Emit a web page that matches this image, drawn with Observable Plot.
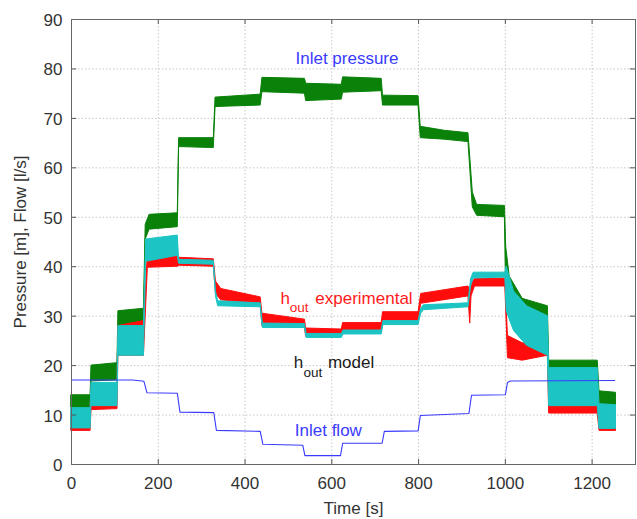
<!DOCTYPE html>
<html>
<head>
<meta charset="utf-8">
<script src="https://cdn.jsdelivr.net/npm/d3@7"></script>
<script src="https://cdn.jsdelivr.net/npm/@observablehq/plot@0.6"></script>
<style>
html, body { margin: 0; padding: 0; background: #fff; }
#chart { width: 637px; height: 519px; }
</style>
</head>
<body>
<div id="chart"></div>
<script>
// Axis ticks
const xTicks = [0, 200, 400, 600, 800, 1000, 1200];
const yTicks = [0, 10, 20, 30, 40, 50, 60, 70, 80, 90];

// Inlet pressure (green, noisy band: low / high envelope)
const pressureTime = [0,44,46,106,108,167,171,180,245,248,328,332,436,440,538,541,623,626,715,718,800,805,860,915,925,935,999,1002,1010,1040,1098,1101,1213,1217,1255];
const pressureLow  = [11.5,11.3,16.8,17.0,27.3,27.8,45.5,47.5,48.0,64.2,64.0,72.3,72.6,75.3,75.0,73.5,73.8,75.2,75.5,72.6,72.6,66.0,65.7,65.2,52.0,50.3,50.0,33.0,31.0,28.5,27.5,17.5,17.5,12.0,12.0];
const pressureHigh = [14.0,14.0,20.0,20.5,31.0,31.5,48.5,50.5,50.8,66.0,66.0,74.2,74.8,78.2,78.0,77.0,76.8,78.3,78.0,74.6,74.5,68.3,67.5,67.0,55.0,52.5,52.3,44.0,38.0,33.5,32.0,21.0,21.0,14.8,14.5];

// h_out experimental (red band)
const expTime = [0,44,46,106,108,167,176,245,250,328,333,345,436,440,538,541,623,626,715,718,800,806,915,919,922,930,1000,1006,1040,1098,1101,1213,1217,1255];
const expLow  = [6.8,6.8,11.0,11.2,22.0,22.0,39.8,40.0,40.2,40.0,34.5,33.2,32.5,28.0,27.6,25.8,25.8,26.8,26.8,29.0,29.0,32.5,34.0,28.5,34.0,36.0,36.0,21.5,21.0,22.0,10.3,10.3,6.8,6.8];
const expHigh = [10.5,10.5,16.0,16.0,28.0,29.0,42.5,42.0,41.8,41.5,37.0,35.5,33.8,30.5,29.3,27.5,27.3,28.6,28.6,30.8,30.8,34.5,36.0,35.0,36.5,37.5,37.6,26.0,24.5,24.5,16.0,16.0,12.0,11.5];

// h_out model (cyan band)
const modelTime = [0,44,46,106,108,167,172,245,248,328,333,338,436,441,538,542,623,627,715,719,800,806,812,915,921,927,1000,1003,1020,1050,1098,1101,1213,1217,1255];
const modelLow  = [7.3,7.3,11.8,11.8,22.0,22.0,41.0,42.2,40.6,40.4,34.0,32.0,31.8,27.6,27.6,25.6,25.6,26.3,26.3,28.2,28.2,30.5,31.2,31.8,36.0,37.6,37.8,31.0,27.0,24.0,22.0,11.8,11.8,7.2,7.2];
const modelHigh = [11.4,11.4,16.5,16.5,28.0,28.0,45.5,46.3,41.4,41.2,35.0,33.0,32.6,28.5,28.4,26.4,26.4,27.1,27.1,29.0,29.0,31.5,32.2,32.6,37.5,38.8,38.8,40.0,35.0,32.0,30.0,19.5,19.5,12.2,12.0];

// Inlet flow (blue line)
const flowTime  = [0,140,163,167,174,244,250,328,334,435,441,533,538,620,625,716,721,799,804,916,922,1000,1005,1012,1252];
const flowValue = [17.1,17.1,16.9,16.8,14.5,14.4,10.6,10.5,6.9,6.7,4.1,3.9,1.8,1.8,4.3,4.3,6.7,6.8,9.9,10.3,14.0,14.1,16.6,16.9,17.0];

// Annotations
const plainLabels = ["Inlet pressure", "Inlet flow"];
const plainLabelX = [635, 592];
const plainLabelY = [82.1, 6.8];
const subLabelMain = ["experimental", "model"];
const subLabelH = ["h", "h"];
const subLabelSub = ["out", "out"];
const subLabelHX = [482, 512];
const subLabelSubX = [503, 535];
const subLabelMainX = [562, 591];
const subLabelY = [33.6, 20.6];
const subLabelSubY = [31.7, 18.6];
const subLabelColors = ["#ff1a1a", "#1a1a1a"];

const band = (t, lo, hi) => t.map((x, i) => ({t: x, lo: lo[i], hi: hi[i]}));
const pressure = band(pressureTime, pressureLow, pressureHigh);
const experimental = band(expTime, expLow, expHigh);
const model = band(modelTime, modelLow, modelHigh);
const flow = flowTime.map((x, i) => ({t: x, v: flowValue[i]}));

const plain = plainLabels.map((s, i) => ({s, t: plainLabelX[i], v: plainLabelY[i]}));
const subs = subLabelMain.map((s, i) => ({
  main: s, h: subLabelH[i], sub: subLabelSub[i],
  hx: subLabelHX[i], sx: subLabelSubX[i], mx: subLabelMainX[i],
  y: subLabelY[i], sy: subLabelSubY[i], c: subLabelColors[i]
}));

const GREEN = "#0a820a", RED = "#ff0d0d", CYAN = "#1cc4c4", BLUE = "#3a3aff";

const chart = Plot.plot({
  width: 637,
  height: 519,
  marginLeft: 71,
  marginRight: 2,
  marginTop: 19,
  marginBottom: 55,
  x: {domain: [0, 1300]},
  y: {domain: [0, 90]},
  style: {fontFamily: "'Liberation Sans', Arial, sans-serif", fontSize: "17px", color: "#333", background: "#fff"},
  marks: [
    Plot.gridX(xTicks, {stroke: "#c8c8c8", strokeOpacity: 1, strokeDasharray: "1.5,2"}),
    Plot.gridY(yTicks, {stroke: "#c8c8c8", strokeOpacity: 1, strokeDasharray: "1.5,2"}),
    Plot.areaY(pressure, {x: "t", y1: "lo", y2: "hi", fill: GREEN, stroke: GREEN, strokeWidth: 1}),
    Plot.areaY(experimental, {x: "t", y1: "lo", y2: "hi", fill: RED, stroke: RED, strokeWidth: 1}),
    Plot.areaY(model, {x: "t", y1: "lo", y2: "hi", fill: CYAN, stroke: CYAN, strokeWidth: 1}),
    Plot.line(flow, {x: "t", y: "v", stroke: BLUE, strokeWidth: 1.1}),
    // inner tick marks on all four sides
    Plot.ruleX(xTicks, {y1: 0, y2: 1, stroke: "#555"}),
    Plot.ruleX(xTicks, {y1: 89, y2: 90, stroke: "#555"}),
    Plot.ruleY(yTicks, {x1: 0, x2: 12, stroke: "#555"}),
    Plot.ruleY(yTicks, {x1: 1288, x2: 1300, stroke: "#555"}),
    Plot.frame({stroke: "#666"}),
    Plot.axisX(xTicks, {tickSize: 0, tickPadding: 12, fontSize: 17, label: null, tickFormat: d => String(d)}),
    Plot.axisY(yTicks, {tickSize: 0, tickPadding: 9, fontSize: 17, label: null, dy: 1, tickFormat: d => String(d)}),
    Plot.text(["Time [s]"], {frameAnchor: "bottom", textAnchor: "middle", lineAnchor: "middle", dy: 44, fontSize: 17, fill: "#333"}),
    Plot.text(["Pressure [m], Flow [l/s]"], {frameAnchor: "left", textAnchor: "middle", lineAnchor: "middle", rotate: -90, dx: -51, fontSize: 17, fill: "#333"}),
    Plot.text(plain, {x: "t", y: "v", text: "s", fill: BLUE, fontSize: 17, textAnchor: "middle"}),
    Plot.text(subs, {x: "hx", y: "y", text: "h", fill: "c", fontSize: 17, textAnchor: "start"}),
    Plot.text(subs, {x: "sx", y: "sy", text: "sub", fill: "c", fontSize: 13.5, textAnchor: "start"}),
    Plot.text(subs, {x: "mx", y: "y", text: "main", fill: "c", fontSize: 17, textAnchor: "start"})
  ]
});
document.getElementById("chart").appendChild(chart);
</script>
</body>
</html>
